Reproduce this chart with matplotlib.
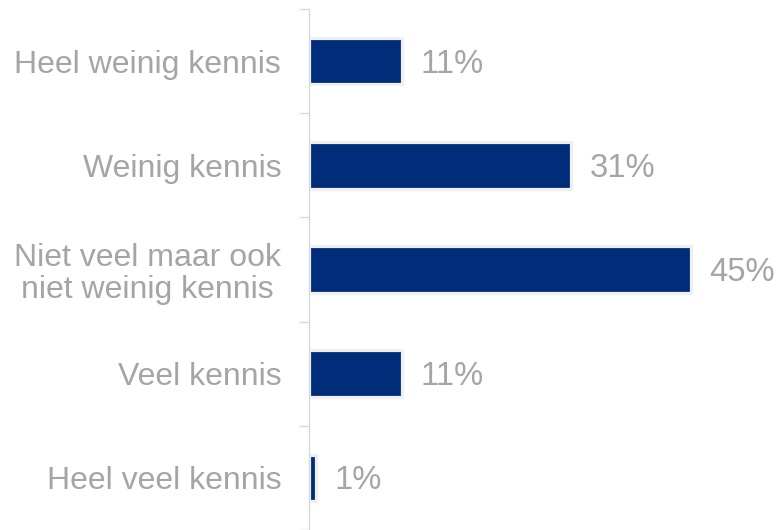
import matplotlib
matplotlib.use("Agg")
import matplotlib.pyplot as plt
from matplotlib import transforms

categories = ["Heel weinig kennis", "Weinig kennis",
              "Niet veel maar ook\nniet weinig kennis", "Veel kennis", "Heel veel kennis"]
values = [11.0, 31.0, 45.2, 11.0, 0.8]
labels = ["11%", "31%", "45%", "11%", "1%"]

W, H = 776, 530
fig = plt.figure(figsize=(W/100, H/100), dpi=100)
ax_left, ax_top = 309, 9
spacing = 105
ax = fig.add_axes([ax_left/W, 0, (W-ax_left)/W, (H-ax_top)/H])

font = "Liberation Sans"
gray = "#a5a5a5"
bar_color = "#002d7a"
fs_val = 23.6
fs_cat = 23.0

pos = list(range(len(categories)))
px_per = 8.45
ax.barh(pos, values, height=47/spacing, color=bar_color,
        edgecolor="#f0f0f0", linewidth=2.3, left=0.05)
ax.set_xlim(0, (W-ax_left)/px_per)
ax.set_ylim(-0.5 + (H-ax_top)/spacing, -0.5)

off = transforms.offset_copy(ax.transData, fig=fig, x=0, y=-3, units="dots")
for p, v, l in zip(pos, values, labels):
    ax.text(v + 0.05 + 18/px_per, p, l, va="center", ha="left",
            fontsize=fs_val, color=gray, family=font, transform=off)

ax.set_yticks(pos)
ax.set_yticklabels(categories, fontsize=fs_cat, color=gray, family=font,
                   multialignment="center", linespacing=1.1)
ax.tick_params(axis="y", which="major", length=0, pad=20)
ax.set_yticks([p - 0.5 for p in pos] + [len(pos) - 0.5], minor=True)
ax.tick_params(axis="y", which="minor", length=7.2, color="#d9d9d9", width=1)
ax.set_xticks([])
for s in ["top", "right", "bottom"]:
    ax.spines[s].set_visible(False)
ax.spines["left"].set_color("#d9d9d9")
ax.spines["left"].set_linewidth(1)

fig.savefig("out.png", dpi=100)
